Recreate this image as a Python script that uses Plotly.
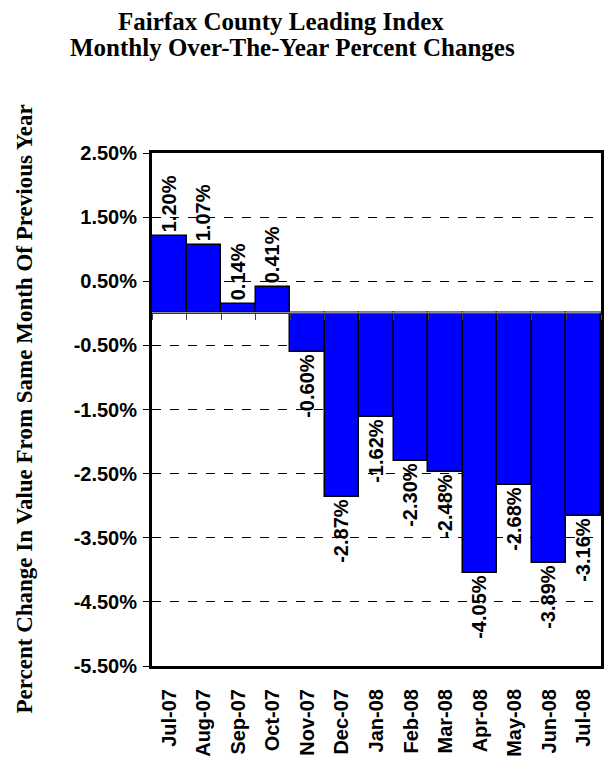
import plotly.graph_objects as go

# Monthly over-the-year percent changes of the Fairfax County Leading Index
months = ["Jul-07", "Aug-07", "Sep-07", "Oct-07", "Nov-07", "Dec-07", "Jan-08",
          "Feb-08", "Mar-08", "Apr-08", "May-08", "Jun-08", "Jul-08"]
pct_change = [1.20, 1.07, 0.14, 0.41, -0.60, -2.87, -1.62,
              -2.30, -2.48, -4.05, -2.68, -3.89, -3.16]
y_ticks = [2.5, 1.5, 0.5, -0.5, -1.5, -2.5, -3.5, -4.5, -5.5]

y_min, y_max = -5.5, 2.5
sans = "Liberation Sans, Arial, sans-serif"
serif = "Liberation Serif, Times New Roman, serif"

fig = go.Figure()
fig.add_trace(go.Bar(
    x=months,
    y=pct_change,
    marker=dict(color="#0000FF", line=dict(color="black", width=1.5)),
    text=[f"<b>{v:.2f}%</b>" for v in pct_change],
    textposition="outside",
    textangle=-90,
    textfont=dict(family=sans, size=20, color="black"),
    constraintext="none",
    cliponaxis=False,
    xaxis="x",
    yaxis="y",
))
# invisible trace carrying the category axis that crosses at zero
fig.add_trace(go.Bar(x=months, y=[0] * len(months), xaxis="x2", yaxis="y",
                     marker=dict(color="rgba(0,0,0,0)"), hoverinfo="skip",
                     showlegend=False))

fig.update_layout(
    width=613, height=759,
    margin=dict(l=152, r=12, t=153, b=93),
    paper_bgcolor="white", plot_bgcolor="white",
    showlegend=False,
    bargap=0,
    barmode="overlay",
    xaxis=dict(
        type="category", automargin=False,
        showline=True, linecolor="black", linewidth=3, mirror=True,
        showgrid=False, ticks="",
        tickangle=-90,
        tickvals=months,
        ticktext=[f"<b>{m}</b>" for m in months],
        tickfont=dict(family=sans, size=20, color="black"),
        ticklabelstandoff=12,
    ),
    xaxis2=dict(
        type="category", overlaying="x", anchor="free", automargin=False,
        position=(0 - y_min) / (y_max - y_min),
        matches="x",
        showline=False, showgrid=False, showticklabels=False,
        ticks="outside", tickson="boundaries", ticklen=6,
        tickcolor="#444444", tickwidth=1,
    ),
    yaxis=dict(
        range=[y_min, y_max], automargin=False,
        tickvals=y_ticks,
        ticktext=[f"<b>{v:.2f}%</b>" for v in y_ticks],
        tickfont=dict(family=sans, size=20, color="black"),
        ticks="outside", ticklen=6, tickcolor="black", tickwidth=1,
        ticklabelstandoff=2,
        showline=True, linecolor="black", linewidth=3, mirror=True,
        showgrid=True, gridcolor="black", gridwidth=1, griddash="dash",
        zeroline=True, zerolinecolor="black", zerolinewidth=1,
    ),
    annotations=[
        dict(text="<b>Fairfax County Leading Index</b>",
             xref="paper", yref="paper",
             x=(281 - 152) / 449, y=1 + (153 - 21) / 513,
             xanchor="center", yanchor="middle", showarrow=False,
             font=dict(family=serif, size=25, color="black")),
        dict(text="<b>Monthly Over-The-Year Percent Changes</b>",
             xref="paper", yref="paper",
             x=(292 - 152) / 449, y=1 + (153 - 48) / 513,
             xanchor="center", yanchor="middle", showarrow=False,
             font=dict(family=serif, size=25, color="black")),
        dict(text="<b>Percent Change In Value From Same Month Of Previous Year</b>",
             xref="paper", yref="paper",
             x=(24 - 152) / 449, y=0.5, textangle=-90,
             xanchor="center", yanchor="middle", showarrow=False,
             font=dict(family=serif, size=23, color="black")),
    ],
)

fig.write_html("out.html")
